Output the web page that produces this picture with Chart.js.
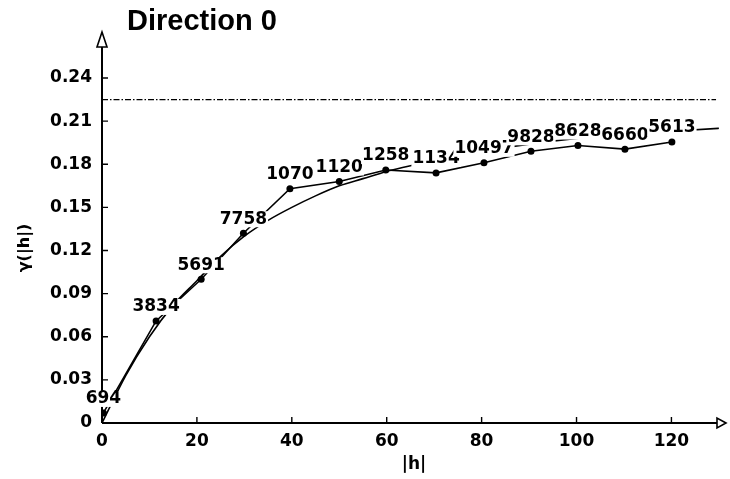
<!DOCTYPE html>
<html>
<head>
<meta charset="utf-8">
<script src="https://cdn.jsdelivr.net/npm/chart.js@4.4.0/dist/chart.umd.min.js"></script>
<style>
  html, body { margin: 0; padding: 0; background: #fff; }
  #wrap { width: 730px; height: 479px; }
</style>
</head>
<body>
<div id="wrap"><canvas id="c" width="730" height="479"></canvas></div>
<script>
// Experimental semivariogram: lag centre, semivariance and number of pairs per lag
const lagDistance  = [0.3, 11.4, 20.9, 29.8, 39.6, 50, 59.8, 70.4, 80.5, 90.4, 100.3, 110.2, 120.1];
const semivariance = [0.007, 0.071, 0.100, 0.132, 0.163, 0.168, 0.176, 0.174, 0.181, 0.189, 0.193, 0.1905, 0.1955];
const pairCounts   = ['694', '3834', '5691', '7758', '1070', '1120', '1258', '1134', '10497', '9828', '8628', '6660', '5613'];

// Fitted model curve
const modelLag   = [0, 5, 10, 15, 20, 25, 30, 35, 40, 45, 50, 55, 60, 65, 70, 80, 90, 100, 110, 120, 130];
const modelValue = [0.000, 0.033, 0.060, 0.082, 0.099, 0.116, 0.130, 0.141, 0.150, 0.158, 0.165, 0.170, 0.175, 0.179, 0.183, 0.189, 0.194, 0.198, 0.201, 0.203, 0.205];

// Sample variance (sill reference line)
const sillValue = 0.225;
const sillLag   = [0, 129.4];

// Axis ticks
const xTickValues = [0, 20, 40, 60, 80, 100, 120];
const yTickValues = [0, 0.03, 0.06, 0.09, 0.12, 0.15, 0.18, 0.21, 0.24];
const yTickLabels = ['0', '0.03', '0.06', '0.09', '0.12', '0.15', '0.18', '0.21', '0.24'];

const chartTitle = 'Direction 0';
const xTitle = '|h|';
const yTitle = 'γ(|h|)';

const INK = '#000';
const tickFont = { family: '"DejaVu Sans", sans-serif', size: 17, weight: 'bold' };

// Axis lines with open arrow heads and inward tick marks
const arrowAxes = {
  id: 'arrowAxes',
  beforeDatasetsDraw(chart) {
    const { ctx, chartArea: a, scales: { x, y } } = chart;
    const x0 = x.getPixelForValue(0), y0 = y.getPixelForValue(0);
    ctx.save();
    ctx.strokeStyle = INK;
    ctx.lineWidth = 2;
    ctx.beginPath();
    ctx.moveTo(x0, y0); ctx.lineTo(x0, a.top + 15);
    ctx.moveTo(x0, y0); ctx.lineTo(a.right - 9, y0);
    ctx.stroke();
    ctx.lineWidth = 1.4;
    ctx.beginPath();
    yTickValues.forEach(v => {
      if (v === 0) return;
      const p = y.getPixelForValue(v);
      ctx.moveTo(x0, p); ctx.lineTo(x0 + 6, p);
    });
    xTickValues.forEach(v => {
      if (v === 0) return;
      const p = x.getPixelForValue(v);
      ctx.moveTo(p, y0); ctx.lineTo(p, y0 - 6);
    });
    ctx.stroke();
    ctx.fillStyle = '#fff';
    ctx.lineWidth = 1.6;
    ctx.beginPath();
    ctx.moveTo(x0, a.top); ctx.lineTo(x0 - 5, a.top + 15); ctx.lineTo(x0 + 5, a.top + 15); ctx.closePath();
    ctx.fill(); ctx.stroke();
    ctx.beginPath();
    ctx.moveTo(a.right, y0); ctx.lineTo(a.right - 9, y0 - 5); ctx.lineTo(a.right - 9, y0 + 5); ctx.closePath();
    ctx.fill(); ctx.stroke();
    ctx.restore();
  }
};

// Pair counts written above each experimental point, on a white ground
const pairLabels = {
  id: 'pairLabels',
  afterDatasetsDraw(chart) {
    const { ctx } = chart;
    const meta = chart.getDatasetMeta(1);
    ctx.save();
    ctx.font = 'bold 17px "DejaVu Sans", sans-serif';
    ctx.textAlign = 'center';
    ctx.textBaseline = 'middle';
    meta.data.forEach((el, i) => {
      const t = pairCounts[i];
      const w = ctx.measureText(t).width;
      const cy = el.y - 14;
      ctx.fillStyle = '#fff';
      ctx.fillRect(el.x - w / 2 - 1, cy - 8, w + 2, 16);
      ctx.fillStyle = INK;
      ctx.fillText(t, el.x, cy);
    });
    ctx.restore();
  }
};

// Title and vertical axis caption
const captions = {
  id: 'captions',
  afterDraw(chart) {
    const { ctx } = chart;
    ctx.save();
    ctx.fillStyle = INK;
    ctx.font = 'bold 29px "Liberation Sans", Arial, sans-serif';
    ctx.textAlign = 'left';
    ctx.textBaseline = 'alphabetic';
    ctx.fillText(chartTitle, 127, 30);
    ctx.translate(25, 248);
    ctx.rotate(-Math.PI / 2);
    ctx.font = 'bold 16px "DejaVu Sans", sans-serif';
    ctx.textAlign = 'center';
    ctx.textBaseline = 'middle';
    ctx.fillText(yTitle, 0, 0);
    ctx.restore();
  }
};

new Chart(document.getElementById('c'), {
  type: 'scatter',
  data: {
    datasets: [
      {
        data: modelLag.map((h, i) => ({ x: h, y: modelValue[i] })),
        showLine: true,
        cubicInterpolationMode: 'monotone',
        borderColor: INK,
        borderWidth: 1.6,
        pointRadius: 0
      },
      {
        data: lagDistance.map((h, i) => ({ x: h, y: semivariance[i] })),
        showLine: true,
        borderColor: INK,
        borderWidth: 1.6,
        pointRadius: 3.5,
        pointBorderWidth: 0,
        pointBackgroundColor: INK
      },
      {
        data: sillLag.map(h => ({ x: h, y: sillValue })),
        showLine: true,
        borderColor: INK,
        borderWidth: 1.2,
        borderDash: [6, 2, 1.5, 2],
        pointRadius: 0
      }
    ]
  },
  options: {
    responsive: false,
    animation: false,
    devicePixelRatio: 1,
    layout: { padding: { top: 32, right: 3, left: 0, bottom: 0 } },
    plugins: { legend: { display: false }, tooltip: { enabled: false } },
    scales: {
      x: {
        type: 'linear',
        min: 0,
        max: 131.5,
        border: { display: false },
        grid: { display: false, drawTicks: false },
        afterBuildTicks: s => { s.ticks = xTickValues.map(v => ({ value: v })); },
        ticks: { font: tickFont, color: INK, padding: 8, maxRotation: 0, autoSkip: false },
        title: { display: true, text: xTitle, font: tickFont, color: INK, padding: { top: 0, bottom: 4 } },
        afterFit: s => { s.height = 56; }
      },
      y: {
        type: 'linear',
        min: 0,
        max: 0.272,
        border: { display: false },
        grid: { display: false, drawTicks: false },
        afterBuildTicks: s => { s.ticks = yTickValues.map(v => ({ value: v })); },
        ticks: { font: tickFont, color: INK, padding: 10, autoSkip: false, callback: (v, i) => yTickLabels[i] },
        afterFit: s => { s.width = 102; }
      }
    }
  },
  plugins: [arrowAxes, pairLabels, captions]
});
</script>
</body>
</html>
